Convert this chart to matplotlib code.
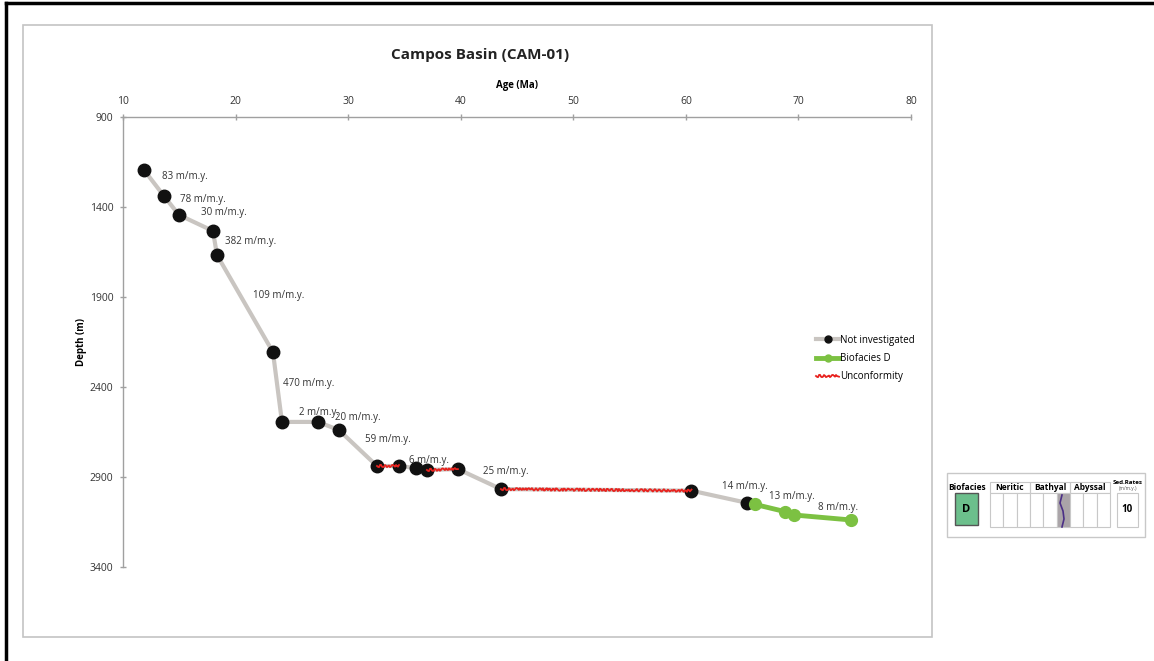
import matplotlib.pyplot as plt
from matplotlib.patches import Rectangle
from matplotlib.lines import Line2D

plt.rcParams['font.family'] = ['Open Sans', 'DejaVu Sans']

# --- data ---
ni_age = [11.86, 13.64, 14.97, 17.99, 18.35, 23.32, 24.12, 27.32, 29.18,
          32.56, 34.51, 36.02, 37.00, 39.75, 43.57, 60.50, 65.39]
ni_depth = [1194, 1339, 1444, 1533, 1667, 2206, 2594, 2594, 2639,
            2839, 2839, 2850, 2861, 2856, 2967, 2976, 3043]

bio_d_age = [66.13, 68.79, 69.59, 74.71]
bio_d_depth = [3052, 3092, 3111, 3139]

# unconformities: index pairs into the "not investigated" series
unconf_pairs = [(9, 10), (12, 13), (14, 15)]

rate_labels = ['83 m/m.y.', '78 m/m.y.', '30 m/m.y.', '382 m/m.y.', '109 m/m.y.',
               '470 m/m.y.', '2 m/m.y.', '20 m/m.y.', '59 m/m.y.', '6 m/m.y.',
               '25 m/m.y.', '14 m/m.y.', '13 m/m.y.', '8 m/m.y.']
label_age = [13.46, 15.06, 16.93, 19.06, 21.55, 24.21, 25.63, 28.83, 31.49,
             35.40, 41.97, 63.20, 67.37, 71.72]
label_depth = [1228, 1356, 1433, 1589, 1889, 2378, 2539, 2567, 2694,
               2806, 2867, 2950, 3011, 3072]

x_ticks = [10, 20, 30, 40, 50, 60, 70, 80]
y_ticks = [900, 1400, 1900, 2400, 2900, 3400]

W, H = 1154, 661
fig = plt.figure(figsize=(W / 100, H / 100), dpi=100)

# background layer in pixel coordinates (frames + side panel)
bg = fig.add_axes([0, 0, 1, 1])
bg.set_xlim(0, W)
bg.set_ylim(H, 0)
bg.axis('off')
bg.plot([6, 6], [3, H], color='black', lw=2.5)
bg.plot([6, W], [3, 3], color='black', lw=2.5)
bg.add_patch(Rectangle((23, 25), 909, 612, fill=False, ec='#c4c4c4', lw=1.2))
bg.text(480, 55, 'Campos Basin (CAM-01)', ha='center', va='center',
        fontsize=11, fontweight='bold', color='#222222')

# side panel (biofacies key)
bg.add_patch(Rectangle((947, 473), 198, 64, fill=False, ec='#c8c8c8', lw=1))
bg.add_patch(Rectangle((955, 493), 23, 32, fc='#6cbf8c', ec='#555555', lw=1))
bg.text(966.5, 509, 'D', ha='center', va='center', fontsize=8, fontweight='bold')
bg.text(967, 488, 'Biofacies', ha='center', va='center', fontsize=6, fontweight='bold')
for i, name in enumerate(['Neritic', 'Bathyal', 'Abyssal']):
    x0 = 990 + 40 * i
    bg.add_patch(Rectangle((x0, 482), 40, 11, fill=False, ec='#c8c8c8', lw=0.8))
    bg.text(x0 + 20, 488, name, ha='center', va='center', fontsize=6, fontweight='bold')
for j in range(9):
    x0 = 990 + j * 40 / 3
    fc = '#aaa4a8' if j == 5 else 'white'
    bg.add_patch(Rectangle((x0, 493), 40 / 3, 34, fc=fc, ec='#c8c8c8', lw=0.8))
bg.plot([1062, 1060, 1063, 1064, 1062], [495, 503, 511, 519, 527], color='#4b2f86', lw=1.2)
bg.text(1128, 483, 'Sed.Rates', ha='center', va='center', fontsize=4.5, fontweight='bold')
bg.text(1128, 488.5, '(m/m.y.)', ha='center', va='center', fontsize=3.5, color='#555555')
bg.add_patch(Rectangle((1117, 493), 21, 34, fill=False, ec='#c8c8c8', lw=0.8))
bg.text(1127.5, 510, '10', ha='center', va='center', fontsize=7, fontweight='bold')

# main chart
ax = fig.add_axes([123 / W, 1 - 567 / H, (911 - 123) / W, (567 - 117) / H])
ax.set_facecolor('none')

ax.plot(ni_age, ni_depth, color='#c9c5c1', lw=3, zorder=2)
ax.plot(ni_age, ni_depth, 'o', color='#111111', ms=9, zorder=3)
for a, b in unconf_pairs:
    ln, = ax.plot([ni_age[a], ni_age[b]], [ni_depth[a], ni_depth[b]],
                  color='#e8231f', lw=1.3, zorder=4)
    ln.set_sketch_params(scale=1.2, length=4, randomness=2)
ax.plot(bio_d_age, bio_d_depth, '-o', color='#7cc142', lw=3.5, ms=8.5, zorder=5)

for txt, a, d in zip(rate_labels, label_age, label_depth):
    ax.text(a, d, txt, fontsize=7, color='#333333', va='center', ha='left')

ax.set_xlim(10, 80)
ax.set_ylim(3400, 900)
ax.set_xticks(x_ticks)
ax.set_yticks(y_ticks)
ax.xaxis.tick_top()
ax.xaxis.set_label_position('top')
ax.set_xlabel('Age (Ma)', fontsize=7, fontweight='bold', labelpad=6)
ax.set_ylabel('Depth (m)', fontsize=7, fontweight='bold', labelpad=2)
ax.tick_params(axis='both', labelsize=7.5, colors='#a0a0a0', labelcolor='#333333',
               direction='inout', length=4, width=1)
ax.tick_params(axis='x', pad=5)
ax.tick_params(axis='y', pad=5)
for s in ['right', 'bottom']:
    ax.spines[s].set_visible(False)
for s in ['left', 'top']:
    ax.spines[s].set_color('#a0a0a0')
    ax.spines[s].set_linewidth(1)

unconf_handle = Line2D([], [], color='#e8231f', lw=1.3)
unconf_handle.set_sketch_params(scale=1.2, length=4, randomness=2)
handles = [Line2D([], [], color='#c9c5c1', lw=3, marker='o', mfc='#111111', mec='#111111', ms=5),
           Line2D([], [], color='#7cc142', lw=3.5, marker='o', ms=5),
           unconf_handle]
fig.legend(handles, ['Not investigated', 'Biofacies D', 'Unconformity'],
           loc='upper left', bbox_to_anchor=(812 / W, 1 - 331 / H), frameon=False,
           fontsize=7, handlelength=2.4, handletextpad=0.1, labelspacing=0.75,
           borderaxespad=0)

fig.savefig('out.png', dpi=100)
